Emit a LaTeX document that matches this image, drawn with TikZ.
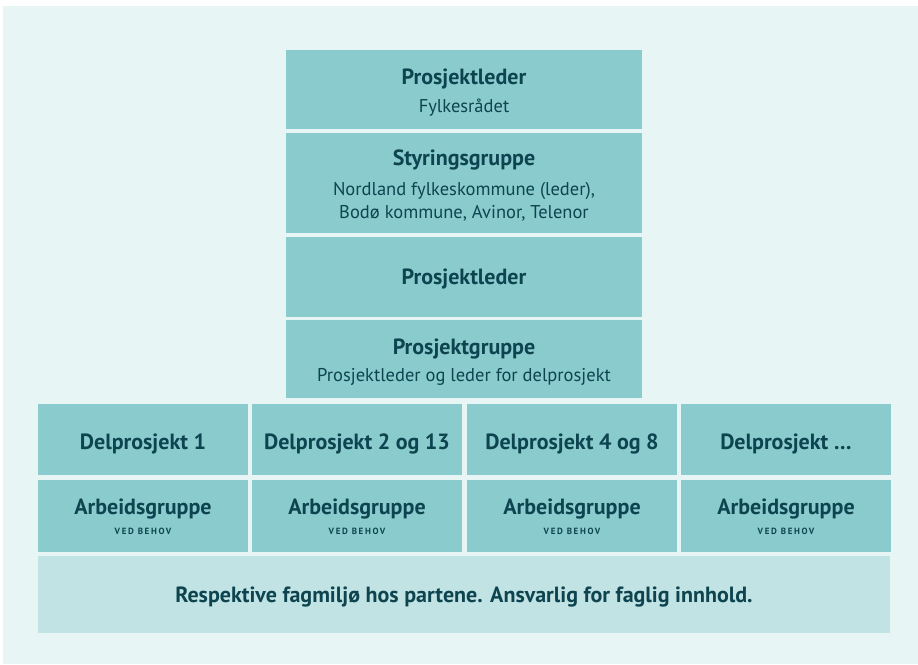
\documentclass[tikz,border=0pt]{standalone}
\usepackage{fontspec}
\setmainfont{PT Sans}
\usetikzlibrary{calc}
\definecolor{pagebg}{HTML}{E8F5F5}
\definecolor{boxfill}{HTML}{8ACCCD}
\definecolor{basefill}{HTML}{C1E3E3}
\definecolor{ink}{HTML}{0D4450}
\tikzset{
  unit/.style={fill=boxfill, draw=none, inner sep=0pt, outer sep=0pt, anchor=north west},
  base/.style={fill=basefill, draw=none, inner sep=0pt, outer sep=0pt, anchor=north west},
  head/.style={text=ink, font=\bfseries\fontsize{22}{26}\selectfont, inner sep=0pt, anchor=base},
  sub/.style={text=ink, font=\fontsize{18.5}{22}\selectfont, inner sep=0pt, align=center, anchor=base},
  tiny/.style={text=ink, font=\bfseries\fontsize{9}{10}\selectfont\addfontfeature{LetterSpace=18}, inner sep=0pt, anchor=base},
}
\begin{document}
\begin{tikzpicture}[x=1pt, y=-1pt]
  \useasboundingbox (0,0) rectangle (918,664);
  \fill[white] (0,0) rectangle (918,664);
  \fill[pagebg] (3,6) rectangle (918,664);

  % central column
  \node[unit, minimum width=356pt, minimum height=79pt]  (lead)  at (286,50)  {};
  \node[unit, minimum width=356pt, minimum height=100pt] (steer) at (286,133) {};
  \node[unit, minimum width=356pt, minimum height=80pt]  (pl)    at (286,237) {};
  \node[unit, minimum width=356pt, minimum height=78pt]  (pg)    at (286,320) {};

  \node[head] at (464,84)  {Prosjektleder};
  \node[sub]  at (464,112) {Fylkesrådet};
  \node[head] at (464,165) {Styringsgruppe};
  \node[sub]  at (464,195) {Nordland fylkeskommune (leder),};
  \node[sub]  at (464,218) {Bodø kommune, Avinor, Telenor};
  \node[head] at (464,284) {Prosjektleder};
  \node[head] at (464,354) {Prosjektgruppe};
  \node[sub]  at (464,381) {Prosjektleder og leder for delprosjekt};

  % sub-projects and working groups
  \foreach \i/\x/\t in {1/38/{Delprosjekt 1}, 2/252/{Delprosjekt 2 og 13}, 3/467/{Delprosjekt 4 og 8}, 4/681/{Delprosjekt \dots}} {
    \node[unit, minimum width=210pt, minimum height=71pt] (dp\i) at (\x,404) {};
    \node[unit, minimum width=210pt, minimum height=72pt] (ag\i) at (\x,480) {};
    \node[head] at ($(\x,449)+(105,0)$) {\t};
    \node[head] at ($(\x,514)+(105,0)$) {Arbeidsgruppe};
    \node[tiny] at ($(\x,534)+(105,0)$) {VED BEHOV};
  }

  % base layer
  \node[base, minimum width=852pt, minimum height=77pt] (fag) at (38,556) {};
  \node[head] at (464,602) {Respektive fagmiljø hos partene. Ansvarlig for faglig innhold.};
\end{tikzpicture}
\end{document}
